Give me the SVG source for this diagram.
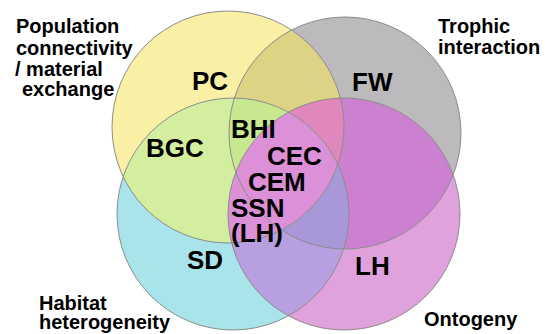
<svg xmlns="http://www.w3.org/2000/svg" width="552" height="334" viewBox="0 0 552 334">
<style>
text{font-family:"Liberation Sans",Arial,sans-serif;font-weight:bold;fill:#000}
.side{font-size:20px}
.big{font-size:26px}
.ol{fill:none;stroke:#8c8c8c;stroke-width:1}
</style>
<defs>
<clipPath id="cY"><circle cx="228" cy="127" r="116"/></clipPath>
<clipPath id="cG"><circle cx="345" cy="133" r="116"/></clipPath>
<clipPath id="cC"><circle cx="233" cy="214" r="116"/></clipPath>
<clipPath id="cP"><circle cx="344" cy="214" r="116"/></clipPath>
</defs>
<rect width="552" height="334" fill="#fff"/>
<g id="fills">
<circle id="Y" cx="228" cy="127" r="116" fill="#f9f0a6"/>
<circle id="G" cx="345" cy="133" r="116" fill="#bcbabc"/>
<circle id="C" cx="233" cy="214" r="116" fill="#a8e4ea"/>
<circle id="P" cx="344" cy="214" r="116" fill="#e0a2dc"/>
<circle cx="345" cy="133" r="116" fill="#dcd484" clip-path="url(#cY)"/>
<circle cx="233" cy="214" r="116" fill="#d4eea0" clip-path="url(#cY)"/>
<circle cx="344" cy="214" r="116" fill="#cc80d0" clip-path="url(#cG)"/>
<circle cx="344" cy="214" r="116" fill="#b8a0e0" clip-path="url(#cC)"/>
<g clip-path="url(#cG)"><circle cx="344" cy="214" r="116" fill="#a898d8" clip-path="url(#cC)"/></g>
<circle cx="344" cy="214" r="116" fill="#dc90d8" clip-path="url(#cY)"/>
<g clip-path="url(#cY)"><circle cx="344" cy="214" r="116" fill="#e088bc" clip-path="url(#cG)"/></g>
<g clip-path="url(#cY)"><circle cx="233" cy="214" r="116" fill="#c8e890" clip-path="url(#cG)"/></g>
<g clip-path="url(#cY)"><g clip-path="url(#cG)"><circle cx="344" cy="214" r="116" fill="#dc90d8" clip-path="url(#cC)"/></g></g>
</g>
<g id="outlines">
<circle class="ol" cx="228" cy="127" r="116"/>
<circle class="ol" cx="345" cy="133" r="116"/>
<circle class="ol" cx="233" cy="214" r="116"/>
<circle class="ol" cx="344" cy="214" r="116"/>
</g>
<g id="side-labels">
<text class="side" x="16" y="33">Population</text>
<text class="side" x="16" y="55">connectivity</text>
<text class="side" x="15" y="76">/ material</text>
<text class="side" x="22" y="96">exchange</text>
<text class="side" x="438" y="33">Trophic</text>
<text class="side" x="438" y="54">interaction</text>
<text class="side" x="39" y="310">Habitat</text>
<text class="side" x="39" y="329">heterogeneity</text>
<text class="side" x="424" y="326">Ontogeny</text>
</g>
<g id="region-labels">
<text class="big" x="192" y="90">PC</text>
<text class="big" x="352" y="91">FW</text>
<text class="big" x="146" y="157">BGC</text>
<text class="big" x="231" y="138">BHI</text>
<text class="big" x="267" y="165">CEC</text>
<text class="big" x="248" y="191">CEM</text>
<text class="big" x="231" y="217">SSN</text>
<text class="big" x="231" y="242">(LH)</text>
<text class="big" x="187" y="269">SD</text>
<text class="big" x="355" y="275">LH</text>
</g>
</svg>
